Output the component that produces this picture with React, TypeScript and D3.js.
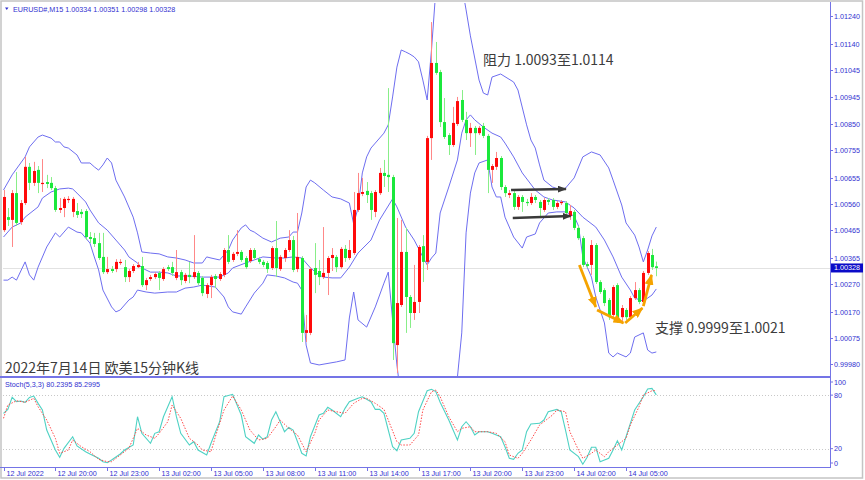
import { useEffect, useRef } from "react";
import * as d3 from "d3";

// EURUSD M15 bars: [open, high, low, close], first bar 12 Jul 17:00
const candles: [number, number, number, number][] = [
  [1.00465, 1.0061, 1.00458, 1.00585],
  [1.00512, 1.00545, 1.0048, 1.00502],
  [1.00502, 1.0061, 1.00404, 1.00599],
  [1.00599, 1.00675, 1.0048, 1.00491],
  [1.00494, 1.00574, 1.00484, 1.00563],
  [1.00563, 1.0073, 1.00556, 1.00694],
  [1.00694, 1.00708, 1.0061, 1.00636],
  [1.00636, 1.00712, 1.00625, 1.00679],
  [1.00683, 1.00697, 1.00599, 1.00636],
  [1.00632, 1.00722, 1.00603, 1.00636],
  [1.00639, 1.00665, 1.00617, 1.00632],
  [1.00636, 1.00657, 1.0061, 1.00617],
  [1.00617, 1.00625, 1.00531, 1.00538],
  [1.00538, 1.00581, 1.00527, 1.00545],
  [1.00545, 1.00585, 1.00512, 1.00578],
  [1.00574, 1.00588, 1.00563, 1.00578],
  [1.00531, 1.00585, 1.00512, 1.00578],
  [1.00534, 1.00563, 1.00509, 1.0052],
  [1.00531, 1.00541, 1.00509, 1.00523],
  [1.00534, 1.00541, 1.00429, 1.0044],
  [1.0044, 1.00458, 1.00418, 1.00433],
  [1.00436, 1.00455, 1.00404, 1.00415],
  [1.00418, 1.00455, 1.00357, 1.00364],
  [1.00368, 1.00455, 1.00306, 1.00313],
  [1.00313, 1.00368, 1.00306, 1.00324],
  [1.00324, 1.00335, 1.0031, 1.00317],
  [1.00324, 1.0036, 1.00313, 1.0035],
  [1.00346, 1.0036, 1.00339, 1.0035],
  [1.00331, 1.00357, 1.00277, 1.00295],
  [1.00295, 1.00324, 1.00277, 1.00317],
  [1.00317, 1.00342, 1.0031, 1.00335],
  [1.00331, 1.0035, 1.00328, 1.00339],
  [1.00335, 1.00368, 1.00259, 1.00266],
  [1.00266, 1.00292, 1.00248, 1.00284],
  [1.00288, 1.00303, 1.00281, 1.00295],
  [1.00295, 1.00313, 1.00288, 1.00306],
  [1.0031, 1.00317, 1.00248, 1.00292],
  [1.00288, 1.00331, 1.00281, 1.00324],
  [1.00331, 1.00339, 1.00317, 1.00324],
  [1.00331, 1.0035, 1.00299, 1.0031],
  [1.00292, 1.00393, 1.00284, 1.00313],
  [1.00313, 1.00321, 1.00266, 1.00284],
  [1.00281, 1.0031, 1.00273, 1.00303],
  [1.00303, 1.0035, 1.00273, 1.00295],
  [1.00295, 1.00447, 1.00288, 1.00313],
  [1.0031, 1.00317, 1.00266, 1.00273],
  [1.00292, 1.00299, 1.00226, 1.00237],
  [1.00234, 1.00273, 1.00219, 1.00266],
  [1.00266, 1.00303, 1.00219, 1.00295],
  [1.00299, 1.00306, 1.00255, 1.00288],
  [1.00288, 1.00313, 1.00281, 1.00306],
  [1.00303, 1.004, 1.00295, 1.00393],
  [1.00393, 1.00447, 1.00342, 1.0035],
  [1.00357, 1.00386, 1.0035, 1.00379],
  [1.00379, 1.00465, 1.00371, 1.00386],
  [1.00386, 1.00393, 1.0035, 1.00357],
  [1.00364, 1.00371, 1.00324, 1.00331],
  [1.00353, 1.004, 1.00346, 1.00393],
  [1.00393, 1.004, 1.00357, 1.00364],
  [1.0036, 1.00368, 1.00342, 1.0035],
  [1.0035, 1.00357, 1.00331, 1.00339],
  [1.00346, 1.00353, 1.0031, 1.00324],
  [1.00328, 1.00407, 1.00321, 1.004],
  [1.004, 1.00498, 1.00295, 1.00328],
  [1.00324, 1.00375, 1.00317, 1.00368],
  [1.00364, 1.004, 1.0035, 1.00393],
  [1.00393, 1.00465, 1.00386, 1.00429],
  [1.00429, 1.00444, 1.00313, 1.00321],
  [1.00324, 1.00527, 1.00313, 1.00368],
  [1.00364, 1.00371, 1.0006, 1.00093],
  [1.00093, 1.00158, 1.0006, 1.00103],
  [1.00093, 1.00331, 1.00085, 1.00324],
  [1.00328, 1.00418, 1.00237, 1.00303],
  [1.00317, 1.00357, 1.00266, 1.00295],
  [1.00295, 1.00476, 1.00288, 1.0031],
  [1.0031, 1.00371, 1.0023, 1.00364],
  [1.00364, 1.004, 1.00317, 1.00375],
  [1.00368, 1.00375, 1.00313, 1.00331],
  [1.00331, 1.00404, 1.00324, 1.00397],
  [1.00397, 1.00411, 1.0035, 1.00364],
  [1.00364, 1.00429, 1.00357, 1.00393],
  [1.00382, 1.00603, 1.00375, 1.00538],
  [1.00538, 1.00672, 1.00531, 1.00599],
  [1.00596, 1.00654, 1.00588, 1.00603],
  [1.00607, 1.00639, 1.00563, 1.00592],
  [1.00599, 1.00607, 1.00502, 1.00538],
  [1.00531, 1.0061, 1.00512, 1.00603],
  [1.00599, 1.0069, 1.00592, 1.00672],
  [1.00672, 1.00719, 1.00621, 1.00661],
  [1.00665, 1.00979, 1.00603, 1.00657],
  [1.00657, 1.00665, 0.99995, 1.00056],
  [1.00049, 1.00509, 0.99948, 1.00201],
  [1.00194, 1.00502, 1.00187, 1.00386],
  [1.00386, 1.00473, 1.00093, 1.00223],
  [1.00223, 1.0023, 1.00111, 1.00165],
  [1.00165, 1.00339, 1.0014, 1.00205],
  [1.00205, 1.00411, 1.00165, 1.00404],
  [1.00407, 1.00447, 1.00277, 1.0035],
  [1.0035, 1.00806, 1.00321, 1.00798],
  [1.00798, 1.01218, 1.00719, 1.0107],
  [1.0107, 1.01146, 1.01027, 1.01034],
  [1.01037, 1.01045, 1.00838, 1.00856],
  [1.00856, 1.00943, 1.00795, 1.00802],
  [1.00809, 1.00816, 1.00737, 1.00773],
  [1.00773, 1.00911, 1.00766, 1.00853],
  [1.00849, 1.00947, 1.00842, 1.00932],
  [1.00936, 1.00972, 1.00856, 1.00864],
  [1.00864, 1.00893, 1.00791, 1.00816],
  [1.00816, 1.00853, 1.00766, 1.00835],
  [1.00835, 1.00842, 1.00737, 1.00816],
  [1.00816, 1.00842, 1.00809, 1.00835],
  [1.00842, 1.00853, 1.00798, 1.00806],
  [1.00806, 1.00813, 1.00599, 1.00683],
  [1.00683, 1.00704, 1.00636, 1.00697],
  [1.00694, 1.00748, 1.00683, 1.00726],
  [1.00726, 1.00733, 1.0061, 1.00621],
  [1.00621, 1.00628, 1.00585, 1.00599],
  [1.00592, 1.0061, 1.00581, 1.00599],
  [1.00599, 1.00607, 1.00538, 1.00549],
  [1.00549, 1.00592, 1.00538, 1.00585],
  [1.00585, 1.00592, 1.00531, 1.00567],
  [1.00567, 1.00578, 1.00552, 1.00563],
  [1.00563, 1.00599, 1.00556, 1.00585],
  [1.00585, 1.00592, 1.00563, 1.00574],
  [1.00567, 1.00574, 1.00512, 1.00545],
  [1.00538, 1.00581, 1.00531, 1.00574],
  [1.00574, 1.00581, 1.00556, 1.00567],
  [1.00574, 1.00581, 1.00538, 1.00549],
  [1.00549, 1.0057, 1.00541, 1.00563],
  [1.00563, 1.00574, 1.00556, 1.00567],
  [1.00563, 1.0057, 1.00516, 1.00527],
  [1.00516, 1.00556, 1.00502, 1.00534],
  [1.00531, 1.00538, 1.00465, 1.00473],
  [1.00473, 1.0048, 1.00429, 1.00436],
  [1.00436, 1.00444, 1.00331, 1.00339],
  [1.00342, 1.0035, 1.00328, 1.00335],
  [1.00339, 1.00429, 1.00303, 1.00411],
  [1.00411, 1.00418, 1.0027, 1.00277],
  [1.00277, 1.00284, 1.00234, 1.00241],
  [1.00248, 1.00255, 1.0019, 1.00201],
  [1.00212, 1.00219, 1.0014, 1.0015],
  [1.00158, 1.00266, 1.00147, 1.00259],
  [1.00266, 1.00273, 1.00129, 1.0014],
  [1.0015, 1.00194, 1.00129, 1.00183],
  [1.00176, 1.00183, 1.0014, 1.0015],
  [1.0015, 1.00226, 1.0014, 1.00219],
  [1.00219, 1.00277, 1.00212, 1.00248],
  [1.00248, 1.00255, 1.00197, 1.00205],
  [1.00205, 1.00317, 1.00197, 1.0031],
  [1.0031, 1.00389, 1.00303, 1.00382],
  [1.00375, 1.00397, 1.00321, 1.00331],
  [1.00334, 1.00351, 1.00298, 1.00328],
];

// Bollinger bands: [bar, price]
const upperBand: [number, number][] = [
  [0, 1.0061], [2, 1.00665], [5, 1.0073], [6, 1.00766], [8, 1.00802], [9, 1.00809],
  [11, 1.00798], [12, 1.00784], [13, 1.00784], [14, 1.00766], [15, 1.00762], [17, 1.00737],
  [18, 1.00708], [20, 1.00708], [21, 1.00694], [22, 1.00682], [23, 1.00701], [24, 1.00726],
  [25, 1.00708], [26, 1.00646], [28, 1.00585], [30, 1.00512], [31, 1.00455], [32, 1.00386],
  [34, 1.00382], [36, 1.00379], [38, 1.00368], [40, 1.00364], [42, 1.00357], [44, 1.00346],
  [46, 1.00346], [47, 1.00368], [48, 1.00364], [50, 1.00357], [52, 1.00393], [53, 1.00429],
  [55, 1.00473], [56, 1.00484], [57, 1.00465], [58, 1.00458], [60, 1.00436], [62, 1.00422],
  [64, 1.00436], [66, 1.0044], [67, 1.00458], [68, 1.00458], [69, 1.00527], [70, 1.00621],
  [71, 1.00646], [72, 1.00636], [74, 1.0061], [76, 1.00585], [78, 1.00578], [80, 1.00563],
  [81, 1.00487], [82, 1.00545], [83, 1.00672], [84, 1.0073], [85, 1.00762], [86, 1.0078],
  [88, 1.00816], [89, 1.00846], [90, 1.00947], [91, 1.01055], [92, 1.01117], [93, 1.0111],
  [94, 1.01102], [95, 1.01092], [96, 1.01074], [97, 1.01008], [98, 1.00936], [99, 1.01117],
  [100, 1.01334], [101, 1.01443], [102, 1.01497], [103, 1.01515], [104, 1.01497],
  [105, 1.01443], [106, 1.01352], [107, 1.01262], [108, 1.01168], [110, 1.01008],
  [111, 1.00961], [112, 1.00954], [113, 1.01019], [115, 1.0103], [118, 1.01001],
  [119, 1.00972], [121, 1.00846], [122, 1.00791], [123, 1.00762], [124, 1.00701],
  [125, 1.00646], [127, 1.00621], [129, 1.0061], [130, 1.00617], [132, 1.00654],
  [134, 1.0073], [136, 1.00748], [138, 1.00737], [140, 1.0069], [141, 1.00646],
  [143, 1.00556], [144, 1.00491], [146, 1.00447], [147, 1.00404], [148, 1.0035],
  [149, 1.00393], [150, 1.00444], [151, 1.00476],
];

const middleBand: [number, number][] = [
  [0, 1.0044], [2, 1.00476], [4, 1.00491], [5, 1.00512], [8, 1.00549], [9, 1.00581],
  [11, 1.00603], [13, 1.00614], [15, 1.00617], [16, 1.00614], [17, 1.00599], [19, 1.00567],
  [20, 1.00538], [22, 1.00491], [24, 1.00465], [26, 1.00429], [28, 1.00393], [29, 1.00368],
  [31, 1.00346], [32, 1.00328], [34, 1.00313], [36, 1.00313], [38, 1.0031], [40, 1.00299],
  [43, 1.00299], [46, 1.00295], [50, 1.00295], [52, 1.0031], [53, 1.00328], [56, 1.00346],
  [58, 1.00357], [60, 1.00368], [63, 1.00364], [65, 1.00364], [67, 1.00368], [69, 1.00364],
  [70, 1.00346], [71, 1.00328], [73, 1.00303], [74, 1.00295], [76, 1.00292], [78, 1.00292],
  [80, 1.00331], [82, 1.00382], [85, 1.00429], [87, 1.00502], [90, 1.00578], [91, 1.00549],
  [93, 1.00476], [95, 1.00429], [97, 1.00368], [98, 1.00339], [99, 1.00364], [100, 1.00382],
  [101, 1.00527], [103, 1.00621], [105, 1.00719], [106, 1.00816], [107, 1.00864],
  [108, 1.00882], [109, 1.00864], [111, 1.00838], [113, 1.00816], [115, 1.00802],
  [116, 1.0078], [118, 1.0073], [120, 1.00672], [123, 1.0061], [125, 1.00585], [127, 1.00574],
  [130, 1.00567], [132, 1.00545], [134, 1.00512], [137, 1.00476], [139, 1.00429],
  [141, 1.00368], [143, 1.00295], [145, 1.00248], [146, 1.00219], [148, 1.00208],
  [150, 1.0023], [151, 1.00252],
];

const lowerBand: [number, number][] = [
  [0, 1.00284], [1, 1.00284], [2, 1.00295], [3, 1.00284], [5, 1.0035], [6, 1.00303],
  [7, 1.00284], [8, 1.00331], [10, 1.00404], [12, 1.00455], [13, 1.0044], [14, 1.00458],
  [15, 1.00476], [17, 1.00458], [18, 1.00455], [20, 1.00418], [21, 1.00368], [22, 1.00321],
  [23, 1.00248], [25, 1.00187], [26, 1.00169], [27, 1.00176], [29, 1.00212], [30, 1.00223],
  [31, 1.00248], [33, 1.00241], [35, 1.00237], [38, 1.00241], [40, 1.00241], [42, 1.00255],
  [44, 1.00259], [46, 1.00266], [49, 1.00259], [51, 1.00223], [52, 1.00187], [53, 1.00169],
  [55, 1.00161], [56, 1.00187], [58, 1.00237], [60, 1.00273], [61, 1.00303], [63, 1.00299],
  [65, 1.00292], [67, 1.00277], [68, 1.00273], [69, 1.00248], [70, 1.00049], [71, 0.99984],
  [73, 0.99977], [77, 0.99988], [79, 0.99995], [80, 1.00147], [81, 1.00241], [82, 1.0014],
  [84, 1.00114], [86, 1.00187], [88, 1.00273], [89, 1.00313], [90, 1.0014], [91, 0.99977],
  [92, 0.9985], [93, 0.99705], [95, 0.9956], [98, 0.99488], [101, 0.99524], [103, 0.99741],
  [104, 0.998], [105, 0.99933], [106, 1.00093], [107, 1.00455], [108, 1.00599],
  [109, 1.00672], [110, 1.00708], [112, 1.00719], [113, 1.00621], [114, 1.00585],
  [115, 1.00585], [116, 1.00512], [118, 1.0044], [120, 1.004], [121, 1.0044], [123, 1.00451],
  [124, 1.00491], [126, 1.00527], [128, 1.00531], [130, 1.00531], [132, 1.00516],
  [133, 1.0048], [134, 1.00368], [136, 1.00295], [137, 1.00223], [139, 1.00129], [140, 1.0002],
  [141, 1.00006], [142, 1.0002], [144, 1.00006], [145, 1.0002], [146, 1.00078], [148, 1.00093],
  [149, 1.00031], [150, 1.0002], [151, 1.00024],
];

// Stochastic(5,3,3): [bar, value]
const stochK: [number, number][] = [
  [0, 59.6], [1, 64], [2, 77.5], [3, 72.6], [4, 73.4], [5, 71.9], [6, 77.5], [7, 79],
  [8, 70.8], [9, 63.3], [10, 40.9], [12, 18.5], [13, 10.3], [14, 20.4], [16, 33.4], [17, 23],
  [19, 16.6], [20, 14], [22, 9.2], [23, 5.4], [24, 4.3], [25, 7.3], [27, 14], [28, 18.5],
  [30, 24.1], [31, 55.8], [32, 37.2], [34, 26], [35, 37.2], [36, 39], [37, 55.8], [39, 78.2],
  [40, 55.8], [41, 37.2], [43, 24.1], [44, 27.8], [45, 18.5], [47, 12.9], [48, 26], [50, 50.2],
  [51, 78.2], [53, 80.9], [55, 57.7], [56, 33.4], [58, 26], [59, 35.3], [60, 30.5], [61, 33.4],
  [62, 52.1], [63, 61.4], [65, 39], [66, 43.9], [67, 40.9], [69, 14.8], [70, 11.8], [71, 33.4],
  [73, 57.7], [74, 59.6], [75, 66.3], [76, 63.3], [78, 55.8], [79, 65.2], [80, 72.6], [82, 76.4],
  [83, 78.2], [85, 72.6], [86, 64], [87, 64], [88, 59.6], [90, 22.2], [91, 17.7], [92, 29.7],
  [94, 31.6], [95, 37.2], [96, 61.4], [98, 84.9], [99, 86.5], [100, 84], [101, 72], [103, 52.1],
  [105, 29.7], [106, 44.6], [107, 50.2], [108, 44.6], [109, 35.3], [110, 39], [112, 39],
  [113, 37.2], [115, 33.4], [116, 22.2], [117, 9.2], [118, 8], [119, 14.8], [120, 18.5],
  [121, 39], [122, 47.6], [124, 48.4], [125, 52.1], [126, 61.4], [128, 64], [129, 61.4],
  [130, 40.9], [131, 18.5], [133, 11], [134, 2.5], [135, 10.3], [136, 21.5], [137, 21.5],
  [138, 5.4], [140, 9.2], [141, 18.5], [142, 28.9], [143, 18.5], [145, 48.4], [146, 63.3],
  [148, 78.2], [149, 86.8], [150, 87.6], [151, 80.24],
];

const stochD: [number, number][] = [
  [0, 54], [1, 68.9], [3, 73.7], [5, 72], [7, 76.4], [8, 67], [10, 52.1], [12, 31.6],
  [13, 14.8], [15, 18.5], [16, 29.7], [18, 22.2], [20, 16.6], [22, 8], [24, 5.4], [25, 5.4],
  [27, 12.9], [29, 20.4], [31, 42.8], [33, 35.3], [35, 31.6], [36, 37.2], [38, 50.2], [39, 68.9],
  [41, 54], [43, 31.6], [45, 24.1], [46, 18.5], [48, 16.6], [49, 33.4], [51, 63.3], [53, 79],
  [55, 63.3], [57, 40.9], [59, 29.7], [61, 31.6], [63, 44.6], [64, 52.1], [66, 42.8], [68, 35.3],
  [70, 16.6], [72, 37.2], [73, 52.1], [75, 63.3], [77, 61.4], [79, 59.6], [81, 70.8], [83, 76.4],
  [84, 76.4], [86, 70.8], [88, 64], [89, 52.1], [91, 27.8], [92, 24.1], [94, 24.1], [96, 35.3],
  [97, 63.3], [99, 83.8], [100, 85.7], [101, 78.2], [103, 55.8], [105, 39], [106, 42.8],
  [108, 44.6], [109, 39], [112, 39], [114, 37.2], [116, 27.8], [117, 12.9], [119, 9.2],
  [120, 14.8], [122, 29.7], [124, 46.5], [125, 50.2], [127, 57.7], [128, 63.3], [130, 61.4],
  [131, 39], [133, 18.5], [134, 9.2], [136, 14.8], [137, 18.5], [139, 11], [140, 16.6],
  [142, 24.1], [144, 31.6], [145, 46.5], [147, 67], [148, 80.2], [150, 84.9], [151, 85.3],
];

const priceTicks = [
  1.0124, 1.0114, 1.01045, 1.00945, 1.0085, 1.00755, 1.00655, 1.0056, 1.00465, 1.00365,
  1.0027, 1.0017, 1.00075, 0.9998,
];
const stochTicks = [100, 80, 20, 0];
const stochLevels = [80, 20];
const timeLabels = [
  "12 Jul 2022", "12 Jul 20:00", "12 Jul 23:00", "13 Jul 02:00", "13 Jul 05:00",
  "13 Jul 08:00", "13 Jul 11:00", "13 Jul 14:00", "13 Jul 17:00", "13 Jul 20:00",
  "13 Jul 23:00", "14 Jul 02:00", "14 Jul 05:00",
];
const lastPrice = 1.00328;

// annotations: [bar, price] pairs
const resistArrows: [number, number, number, number][] = [
  [117.4, 1.0061, 130.1, 1.00614],
  [117.8, 1.00509, 131.2, 1.00516],
];
const supportPath: [number, number][] = [
  [133.2, 1.00339], [137.0, 1.00187], [137.3, 1.00176], [143.4, 1.00129],
  [143.8, 1.00129], [147.8, 1.00183], [148.0, 1.0019], [149.9, 1.00303],
];

const AXIS = "#3030d0";
const AXIS_LINE = "#7474e6";
const SMALL = "'Liberation Sans', Arial, sans-serif";
const CJK = "'Noto Sans CJK SC', 'Noto Sans', sans-serif";

export default function App() {
  const svgRef = useRef<SVGSVGElement>(null);

  useEffect(() => {
    if (!svgRef.current) return;
    const width = 865;
    const height = 480;
    const plot = { left: 3, right: 830, top: 3, bottom: 376 };
    const sub = { top: 378, bottom: 467 };

    const svg = d3.select(svgRef.current);
    svg.selectAll("*").remove();
    svg.attr("width", width).attr("height", height);

    const x = d3.scaleLinear().domain([0, 151]).range([3.5, 656.3]);
    const y = d3.scaleLinear().domain([0.99937, 1.01287]).range([plot.bottom, plot.top]);
    const ys = d3.scaleLinear().domain([0, 100]).range([466.5, 377.3]);

    svg.append("rect").attr("width", width).attr("height", height).attr("fill", "#fff");

    const defs = svg.append("defs");
    defs.append("clipPath").attr("id", "clip-main").append("rect")
      .attr("x", plot.left).attr("y", plot.top)
      .attr("width", plot.right - plot.left).attr("height", plot.bottom - plot.top);
    defs.append("clipPath").attr("id", "clip-sub").append("rect")
      .attr("x", plot.left).attr("y", sub.top)
      .attr("width", plot.right - plot.left).attr("height", sub.bottom - sub.top);

    const marker = (id: string, color: string, w: number, h: number) =>
      defs.append("marker").attr("id", id)
        .attr("viewBox", `0 0 ${w} ${h}`)
        .attr("refX", w - 1).attr("refY", h / 2)
        .attr("markerWidth", w).attr("markerHeight", h)
        .attr("markerUnits", "userSpaceOnUse").attr("orient", "auto")
        .append("path").attr("d", `M0,0L${w},${h / 2}L0,${h}Z`).attr("fill", color);
    marker("head-dark", "#3a3a3a", 9, 7);
    marker("head-orange", "#f5a300", 11, 9);

    // outer frame
    svg.append("rect").attr("x", 1).attr("y", 1).attr("width", 861.5).attr("height", 477)
      .attr("fill", "none").attr("stroke", "#c4c4c4").attr("stroke-width", 1.5);

    const main = svg.append("g").attr("clip-path", "url(#clip-main)");

    // current price line
    main.append("line")
      .attr("x1", plot.left).attr("x2", plot.right)
      .attr("y1", Math.round(y(lastPrice)) + 0.5).attr("y2", Math.round(y(lastPrice)) + 0.5)
      .style("stroke", "#e2e2e2");

    // Bollinger bands
    const bandLine = d3.line<[number, number]>().x((d) => x(d[0])).y((d) => y(d[1]));
    [upperBand, middleBand, lowerBand].forEach((band) => {
      main.append("path").attr("d", bandLine(band) ?? "")
        .style("fill", "none").style("stroke", "#6e6ef0").style("stroke-width", 1);
    });

    // candles
    candles.forEach(([o, h, l, c], i) => {
      const cx = Math.round(x(i)) + 0.5;
      const up = c >= o;
      main.append("line")
        .attr("x1", cx).attr("x2", cx).attr("y1", y(h)).attr("y2", y(l))
        .style("stroke", up ? "#ff8888" : "#88ee88").style("stroke-width", 1);
      const top = y(Math.max(o, c));
      const bh = Math.max(1.2, Math.abs(y(o) - y(c)));
      main.append("rect")
        .attr("x", cx - 1.5).attr("y", top).attr("width", 3).attr("height", bh)
        .style("fill", up ? "#ff0a0a" : "#1be83c");
    });

    // resistance arrows
    resistArrows.forEach(([i0, p0, i1, p1]) => {
      main.append("line")
        .attr("x1", x(i0)).attr("y1", y(p0)).attr("x2", x(i1)).attr("y2", y(p1))
        .style("stroke", "#3a3a3a").style("stroke-width", 2.4)
        .attr("marker-end", "url(#head-dark)");
    });

    // support arrows (pairs of points)
    for (let k = 0; k < supportPath.length; k += 2) {
      const [i0, p0] = supportPath[k];
      const [i1, p1] = supportPath[k + 1];
      main.append("line")
        .attr("x1", x(i0)).attr("y1", y(p0)).attr("x2", x(i1)).attr("y2", y(p1))
        .style("stroke", "#f5a300").style("stroke-width", 2.8)
        .attr("marker-end", "url(#head-orange)");
    }

    // text annotations
    const note = (tx: number, ty: number, s: string) =>
      svg.append("text").attr("x", tx).attr("y", ty)
        .style("font-family", CJK).style("font-size", "14px").style("fill", "#3c3c3c")
        .text(s);
    note(483, 65, "阻力 1.0093至1.0114");
    note(655, 333, "支撑 0.9999至1.0021");
    note(5, 373, "2022年7月14日 欧美15分钟K线");

    // header
    svg.append("path").attr("d", "M5,7.5L8.5,7.5L6.75,10Z").style("fill", AXIS);
    svg.append("text").attr("x", 13).attr("y", 11.5)
      .style("font-family", SMALL).style("font-size", "7.2px").style("fill", AXIS)
      .text("EURUSD#,M15  1.00334 1.00351 1.00298 1.00328");

    // stochastic panel
    const subG = svg.append("g").attr("clip-path", "url(#clip-sub)");
    stochLevels.forEach((v) => {
      subG.append("line")
        .attr("x1", plot.left).attr("x2", plot.right)
        .attr("y1", Math.round(ys(v)) + 0.5).attr("y2", Math.round(ys(v)) + 0.5)
        .style("stroke", "#c8c8c8").style("stroke-dasharray", "1,2");
    });
    const stLine = d3.line<[number, number]>().x((d) => x(d[0])).y((d) => ys(d[1]));
    subG.append("path").attr("d", stLine(stochK) ?? "")
      .style("fill", "none").style("stroke", "#4fd2c4").style("stroke-width", 1.1);
    subG.append("path").attr("d", stLine(stochD) ?? "")
      .style("fill", "none").style("stroke", "#ff4a4a").style("stroke-width", 1)
      .style("stroke-dasharray", "1.5,1.5");

    svg.append("text").attr("x", 5).attr("y", 386.5)
      .style("font-family", SMALL).style("font-size", "7.2px").style("fill", AXIS)
      .text("Stoch(5,3,3) 80.2395 85.2995");

    // panel borders
    svg.append("line").attr("x1", 0).attr("x2", plot.right + 1).attr("y1", 377).attr("y2", 377)
      .style("stroke", AXIS_LINE).style("stroke-width", 2);
    svg.append("line").attr("x1", plot.right + 0.5).attr("x2", plot.right + 0.5)
      .attr("y1", 2).attr("y2", sub.bottom)
      .style("stroke", AXIS_LINE);
    svg.append("line").attr("x1", 0).attr("x2", plot.right + 1)
      .attr("y1", sub.bottom + 0.5).attr("y2", sub.bottom + 0.5)
      .style("stroke", AXIS_LINE);

    // price axis
    priceTicks.forEach((p) => {
      const ty = Math.round(y(p)) + 0.5;
      svg.append("line").attr("x1", plot.right).attr("x2", plot.right + 3)
        .attr("y1", ty).attr("y2", ty).style("stroke", AXIS_LINE);
      svg.append("text").attr("x", 834).attr("y", ty).attr("dy", "0.35em")
        .style("font-family", SMALL).style("font-size", "7.2px").style("fill", AXIS)
        .text(p.toFixed(5));
    });
    const ly = y(lastPrice);
    svg.append("rect").attr("x", 831).attr("y", ly - 4.5).attr("width", 32).attr("height", 9)
      .style("fill", "#0a0ac8");
    svg.append("text").attr("x", 834).attr("y", ly).attr("dy", "0.35em")
      .style("font-family", SMALL).style("font-size", "7.2px").style("fill", "#fff")
      .text(lastPrice.toFixed(5));

    // stochastic axis
    stochTicks.forEach((v) => {
      const ty = Math.min(Math.max(ys(v), 382), 463);
      svg.append("line").attr("x1", plot.right).attr("x2", plot.right + 3)
        .attr("y1", ty).attr("y2", ty).style("stroke", AXIS_LINE);
      svg.append("text").attr("x", 834).attr("y", ty).attr("dy", "0.35em")
        .style("font-family", SMALL).style("font-size", "7.2px").style("fill", AXIS)
        .text(String(v));
    });

    // time axis: one label every 12 bars (3 hours)
    timeLabels.forEach((label, k) => {
      const tx = Math.round(x(k * 12)) + 0.5;
      svg.append("line").attr("x1", tx).attr("x2", tx)
        .attr("y1", sub.bottom).attr("y2", sub.bottom + 4).style("stroke", AXIS_LINE);
      svg.append("text").attr("x", tx + 2).attr("y", 476)
        .style("font-family", SMALL).style("font-size", "7.2px").style("fill", AXIS)
        .text(label);
    });
  }, []);

  return (
    <svg
      ref={svgRef}
      style={{ position: "absolute", left: 0, top: 0, display: "block" }}
    />
  );
}
